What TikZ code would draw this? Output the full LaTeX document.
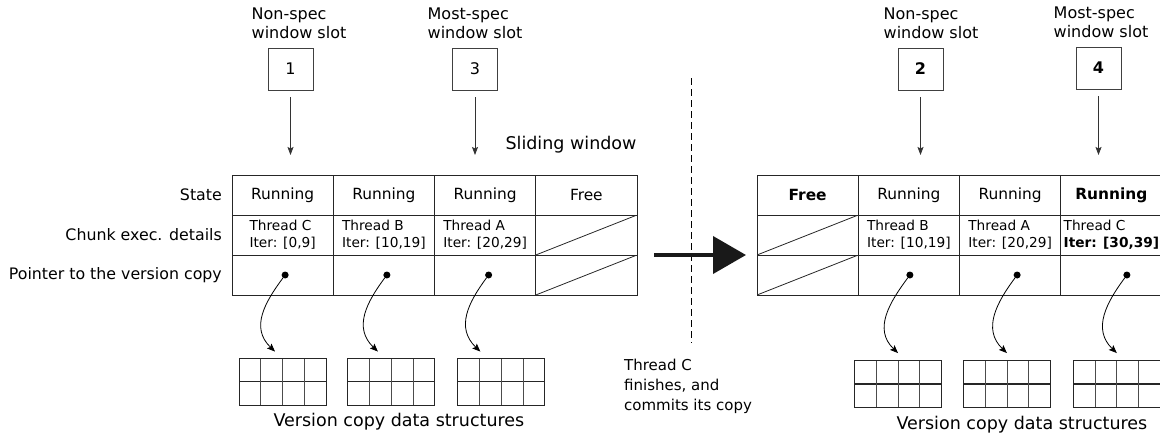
\documentclass[tikz,border=0pt]{standalone}
\usepackage{fontspec}
\setmainfont{DejaVu Sans}
\usetikzlibrary{arrows.meta, positioning, calc}

\begin{document}
\begin{tikzpicture}[
    x=1pt, y=-1pt,
    % Node styles
    slot/.style={
        rectangle, draw=black!75, line width=0.9pt,
        minimum width=45pt, minimum height=42pt,
        inner sep=0pt, font=\fontsize{16}{19}\selectfont,
    },
    slot label/.style={
        align=left, inner sep=0pt,
        font=\fontsize{16}{19}\selectfont,
    },
    row label/.style={
        inner sep=0pt, font=\fontsize{15.8}{19}\selectfont,
    },
    cell/.style={
        rectangle, draw=black!85, line width=0.8pt,
        minimum width=101.25pt, minimum height=40pt,
        inner sep=0pt, outer sep=0pt,
        font=\fontsize{15.4}{18}\selectfont,
    },
    detail/.style={
        cell, align=left,
        font=\fontsize{13.7}{17}\selectfont,
    },
    empty/.style={
        cell,
        path picture={
            \draw[black!85, line width=0.8pt]
                (path picture bounding box.south west) --
                (path picture bounding box.north east);
        },
    },
    vcopy/.style={
        rectangle, draw=black!85, line width=0.9pt,
        minimum width=87pt, minimum height=47pt,
        inner sep=0pt,
        path picture={
            \draw[black!85, line width=1.1pt]
                (path picture bounding box.west) --
                (path picture bounding box.east);
            \foreach \f in {0.25, 0.5, 0.75}
                \draw[black!70, line width=0.7pt]
                    ($(path picture bounding box.south west)!\f!(path picture bounding box.south east)$) --
                    ($(path picture bounding box.north west)!\f!(path picture bounding box.north east)$);
        },
    },
    dot/.style={
        circle, fill=black, inner sep=0pt, minimum size=7pt,
    },
    big/.style={
        inner sep=0pt, font=\fontsize{17.5}{21}\selectfont,
    },
    note/.style={
        align=left, inner sep=0pt,
        font=\fontsize{15}{20}\selectfont,
    },
    slot line/.style={
        draw=black!80, line width=0.8pt,
        -{Stealth[length=8pt, width=6pt, inset=1.5pt]},
        shorten <=7pt, shorten >=20pt,
    },
    ptr/.style={
        draw=black, line width=0.8pt,
        -{Stealth[length=8pt, width=6.5pt, inset=1.5pt]},
    },
    commit/.style={
        draw=black!90, line width=4pt,
        -{Triangle[length=33pt, width=37pt]},
    },
    divider/.style={
        draw=black, line width=0.8pt, dash pattern=on 7pt off 4pt,
    },
]
\useasboundingbox (0,0) rectangle (1160,437);

% === Left: sliding window before the commit ===
\node[cell] (l11) at (282.625,195) {Running};
\node[cell, right=0pt of l11] (l12) {Running};
\node[cell, right=0pt of l12] (l13) {Running};
\node[cell, right=0pt of l13] (l14) {Free};

\node[detail, below=0pt of l11] (l21) {Thread C\\Iter: [0,9]};
\node[detail, below=0pt of l12] (l22) {Thread B\\Iter: [10,19]};
\node[detail, below=0pt of l13] (l23) {Thread A\\Iter: [20,29]};
\node[empty,  below=0pt of l14] (l24) {};

\node[cell,  below=0pt of l21] (l31) {};
\node[cell,  below=0pt of l22] (l32) {};
\node[cell,  below=0pt of l23] (l33) {};
\node[empty, below=0pt of l24] (l34) {};

% === Row labels ===
\node[row label, left=10pt of l11] {State};
\node[row label, left=10pt of l21] {Chunk exec. details};
\node[row label, left=10pt of l31] {Pointer to the version copy};

\node[big] (sw) at (571,145) {Sliding window};

% === Left: window slots ===
\node[slot] (s1) at (290.5,69) {1};
\node[slot] (s3) at (475,69) {3};
\node[slot label, above=9pt of s1, xshift=8.5pt] {Non-spec\\window slot};
\node[slot label, above=9pt of s3] {Most-spec\\window slot};

\draw[slot line] (s1) -- (s1 |- l11.north);
\draw[slot line] (s3) -- (s3 |- l13.north);

% === Left: version copies ===
\node[dot] (p1) at ([xshift=2.5pt]l31.center) {};
\node[dot] (p2) at ([xshift=3pt]l32.center) {};
\node[dot] (p3) at ([xshift=3.5pt]l33.center) {};

\node[vcopy] (g1) at (282.5,381.5) {};
\node[vcopy, right=21pt of g1] (g2) {};
\node[vcopy, right=22pt of g2] (g3) {};
\node[big, below=8pt of g2, xshift=7.5pt] {Version copy data structures};

\draw[ptr] (p1) .. controls +(-20,27) and +(-25,-24) .. ([xshift=-7.5pt, yshift=6pt]g1.north);
\draw[ptr] (p2) .. controls +(-20,27) and +(-25,-24) .. ([xshift=-13.5pt, yshift=6pt]g2.north);
\draw[ptr] (p3) .. controls +(-20,27) and +(-25,-24) .. ([xshift=-21pt, yshift=6pt]g3.north);

% === Middle: commit ===
\draw[divider] (691,78) -- (691,343);
\node[note, anchor=north west] at (624,359) {Thread C\\finishes, and\\commits its copy};

% === Right: sliding window after the commit ===
\node[cell] (r11) at (807.625,195) {\textbf{Free}};
\node[cell, right=0pt of r11] (r12) {Running};
\node[cell, right=0pt of r12] (r13) {Running};
\node[cell, right=0pt of r13] (r14) {\textbf{Running}};

\node[empty,  below=0pt of r11] (r21) {};
\node[detail, below=0pt of r12] (r22) {Thread B\\Iter: [10,19]};
\node[detail, below=0pt of r13] (r23) {Thread A\\Iter: [20,29]};
\node[detail, below=0pt of r14] (r24) {Thread C\\\textbf{Iter: [30,39]}};

\node[empty, below=0pt of r21] (r31) {};
\node[cell,  below=0pt of r22] (r32) {};
\node[cell,  below=0pt of r23] (r33) {};
\node[cell,  below=0pt of r24] (r34) {};

\draw[commit] ([xshift=17pt]l24.south east) -- ([xshift=-11pt]r21.south west);

% === Right: window slots ===
\node[slot] (s2) at (920.5,69) {\textbf{2}};
\node[slot] (s4) at (1098.5,68) {\textbf{4}};
\node[slot label, above=9pt of s2, xshift=10.5pt] {Non-spec\\window slot};
\node[slot label, above=9pt of s4, xshift=2.5pt] {Most-spec\\window slot};

\draw[slot line] (s2) -- (s2 |- r12.north);
\draw[slot line] (s4) -- (s4 |- r14.north);

% === Right: version copies ===
\node[dot] (p4) at ([xshift=1pt]r32.center) {};
\node[dot] (p5) at ([xshift=7pt]r33.center) {};
\node[dot] (p6) at ([xshift=15.5pt]r34.center) {};

\node[vcopy] (g4) at (898,384) {};
\node[vcopy, right=21pt of g4] (g5) {};
\node[vcopy, right=22pt of g5] (g6) {};
\node[big, below=8pt of g5, xshift=15pt] {Version copy data structures};

\draw[ptr] (p4) .. controls +(-20,27) and +(-25,-24) .. ([yshift=7pt]g4.north);
\draw[ptr] (p5) .. controls +(-20,27) and +(-25,-24) .. ([yshift=7pt]g5.north);
\draw[ptr] (p6) .. controls +(-20,27) and +(-25,-24) .. ([yshift=7pt]g6.north);

\end{tikzpicture}
\end{document}
